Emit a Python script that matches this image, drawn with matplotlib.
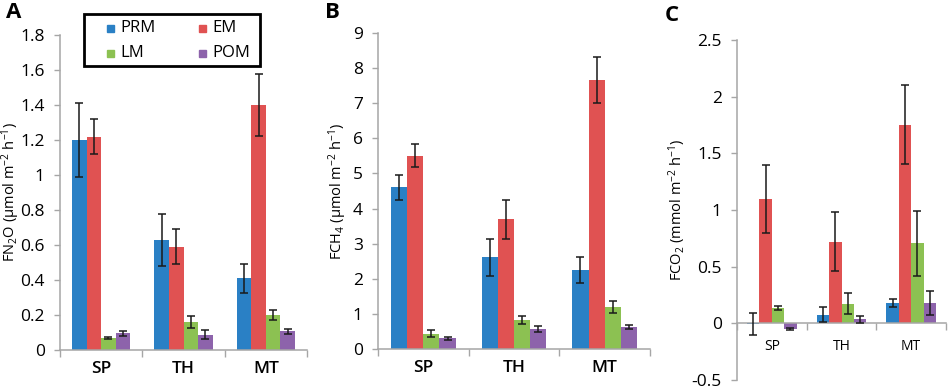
import numpy as np
import matplotlib
matplotlib.use("Agg")
import matplotlib.pyplot as plt
from matplotlib.patches import Rectangle
from matplotlib.ticker import FuncFormatter

plt.rcParams['font.family'] = ['Open Sans', 'DejaVu Sans']
plt.rcParams['mathtext.fontset'] = 'custom'
plt.rcParams['mathtext.rm'] = 'Open Sans'

categories = ['SP', 'TH', 'MT']
series = ['PRM', 'EM', 'LM', 'POM']
colors = ['#2A80C5', '#E05252', '#8CC152', '#8D63AB']

# rows = series (PRM, EM, LM, POM), columns = categories (SP, TH, MT)
n2o_mean = [[1.20, 0.63, 0.41],
            [1.22, 0.59, 1.40],
            [0.07, 0.16, 0.20],
            [0.095, 0.088, 0.107]]
n2o_err = [[0.21, 0.15, 0.083],
           [0.10, 0.10, 0.175],
           [0.006, 0.033, 0.031],
           [0.015, 0.024, 0.013]]

ch4_mean = [[4.60, 2.61, 2.24],
            [5.51, 3.69, 7.66],
            [0.44, 0.82, 1.19],
            [0.31, 0.57, 0.63]]
ch4_err = [[0.365, 0.535, 0.37],
           [0.32, 0.56, 0.645],
           [0.095, 0.11, 0.165],
           [0.045, 0.075, 0.05]]

co2_mean = [[-0.005, 0.076, 0.181],
            [1.10, 0.722, 1.754],
            [0.134, 0.175, 0.705],
            [-0.05, 0.035, 0.178]]
co2_err = [[0.097, 0.067, 0.038],
           [0.30, 0.256, 0.348],
           [0.015, 0.095, 0.283],
           [0.007, 0.028, 0.105]]

W, H = 948, 389
fig = plt.figure(figsize=(W / 100, H / 100), dpi=100)


def px_axes(x0, y_top, x1, y_bot):
    return fig.add_axes([x0 / W, 1 - y_bot / H, (x1 - x0) / W, (y_bot - y_top) / H])


GRAY = '#A6A6A6'
bar_w = 0.178


def draw_panel(ax, means, errs, ylim, step, ylabel, label_x, xlab_pad, xlab_weight, xlab_size):
    x = np.arange(len(categories)) + 0.5
    for i, name in enumerate(series):
        xs = x + (i - 1.5) * bar_w
        ax.bar(xs, means[i], width=bar_w, color=colors[i], label=name, zorder=2)
        ax.errorbar(xs, means[i], yerr=errs[i], fmt='none', ecolor='#1A1A1A',
                    elinewidth=1.1, capsize=2.6, capthick=1.1, zorder=3)
    ax.set_xlim(0, len(categories))
    ax.set_ylim(*ylim)
    ax.set_yticks(np.arange(ylim[0], ylim[1] + step / 2, step))
    ax.yaxis.set_major_formatter(FuncFormatter(lambda v, p: f'{round(v, 2):g}'))
    ax.set_xticks(np.arange(len(categories) + 1))
    ax.set_xticklabels([])
    ax.set_xticks(x, minor=True)
    ax.set_xticklabels(categories, minor=True, fontsize=xlab_size, fontweight=xlab_weight)
    ax.tick_params(axis='x', which='major', length=5, width=1, color=GRAY, direction='out')
    ax.tick_params(axis='x', which='minor', length=0, pad=xlab_pad)
    ax.tick_params(axis='y', length=4, width=1, color=GRAY, labelsize=12.5, pad=7)
    for s in ['top', 'right']:
        ax.spines[s].set_visible(False)
    for s in ['left', 'bottom']:
        ax.spines[s].set_color(GRAY)
        ax.spines[s].set_linewidth(1.1)
    ax.set_ylabel(ylabel, fontsize=10.5)
    ax.yaxis.set_label_coords(label_x, 0.5)


axA = px_axes(60, 35, 307, 350)
draw_panel(axA, n2o_mean, n2o_err, (0, 1.8), 0.2,
           r'FN$\mathregular{_2}$O (μmol m$\mathregular{^{-2}}$ h$\mathregular{^{-1}}$)',
           -0.155, 8, 'semibold', 12.5)

axB = px_axes(378, 33, 650, 349)
draw_panel(axB, ch4_mean, ch4_err, (0, 9), 1,
           r'FCH$\mathregular{_4}$ (μmol m$\mathregular{^{-2}}$ h$\mathregular{^{-1}}$)',
           -0.105, 8, 'semibold', 12.5)

axC = px_axes(737, 40, 946, 380)
draw_panel(axC, co2_mean, co2_err, (-0.5, 2.5), 0.5,
           r'FCO$\mathregular{_2}$ (mmol m$\mathregular{^{-2}}$ h$\mathregular{^{-1}}$)',
           -0.235, 11, 'normal', 13.5)
axC.spines['bottom'].set_position(('data', 0))

# legend box in panel A: PRM/EM on the top row, LM/POM below
fig.patches.append(Rectangle((84 / W, 1 - 66 / H), 176 / W, 52 / H, transform=fig.transFigure,
                             fill=False, edgecolor='black', linewidth=2, zorder=10))
leg_cols = [107, 199]
leg_rows = [28, 53]
for i, name in enumerate(series):
    cx = leg_cols[i % 2]
    cy = leg_rows[i // 2]
    fig.patches.append(Rectangle((cx / W, 1 - (cy + 3.5) / H), 7 / W, 7 / H,
                                 transform=fig.transFigure, color=colors[i], zorder=10))
    fig.text((cx + 13) / W, 1 - cy / H, name, fontsize=12, va='center', ha='left', zorder=10)

fig.text(6 / W, 1 - 2 / H, 'A', fontsize=16, fontweight='bold', va='top', ha='left')
fig.text(325 / W, 1 - 2 / H, 'B', fontsize=16, fontweight='bold', va='top', ha='left')
fig.text(665 / W, 1 - 5 / H, 'C', fontsize=16, fontweight='bold', va='top', ha='left')

fig.savefig('out.png', dpi=100)
